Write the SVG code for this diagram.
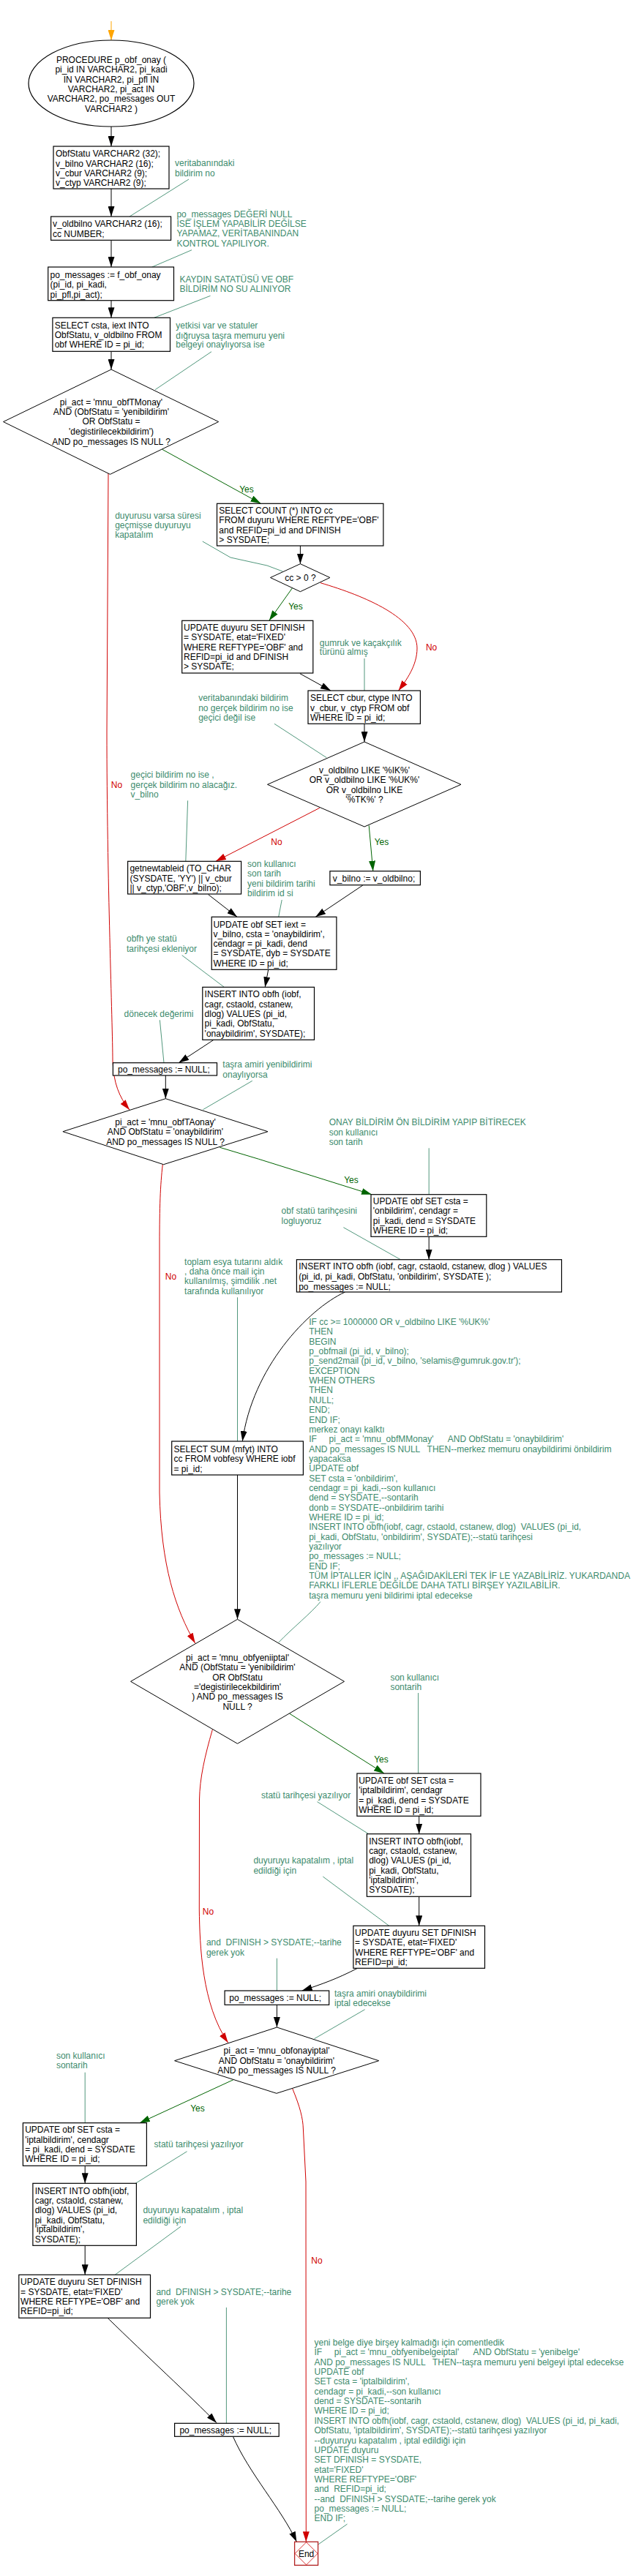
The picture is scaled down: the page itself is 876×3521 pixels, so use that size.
<svg xmlns="http://www.w3.org/2000/svg" width="876" height="3521" viewBox="0 0 876 3521">
<style>
text{font-family:"Liberation Sans",Arial,sans-serif;font-size:12px;fill:#000}
.n{fill:#fff;stroke:#000;stroke-width:1.2}
.d{fill:#fff;stroke:#000;stroke-width:1}
.c{fill:#3d8b6d}
.m{text-anchor:middle}
.e{fill:none;stroke:#000;stroke-width:1}
.y{fill:none;stroke:#006400;stroke-width:1}
.r{fill:none;stroke:#d00000;stroke-width:1}
.l{fill:none;stroke:#3d8b6d;stroke-width:0.9}
.yl{fill:#006400}
.rl{fill:#d00000}
</style>
<defs>
<marker id="ab" markerUnits="userSpaceOnUse" markerWidth="15" markerHeight="9" refX="14" refY="4.5" orient="auto"><path d="M0,0 L14,4.5 L0,9 Z" fill="#000"/></marker>
<marker id="ag" markerUnits="userSpaceOnUse" markerWidth="15" markerHeight="9" refX="14" refY="4.5" orient="auto"><path d="M0,0 L14,4.5 L0,9 Z" fill="#006400"/></marker>
<marker id="ar" markerUnits="userSpaceOnUse" markerWidth="15" markerHeight="9" refX="14" refY="4.5" orient="auto"><path d="M0,0 L14,4.5 L0,9 Z" fill="#d00000"/></marker>
<marker id="ao" markerUnits="userSpaceOnUse" markerWidth="15" markerHeight="9" refX="14" refY="4.5" orient="auto"><path d="M0,0 L14,4.5 L0,9 Z" fill="#ffa500"/></marker>
</defs>
<rect width="876" height="3521" fill="#fff"/>

<g id="connectors">
<path d="M152,29 L152,55" stroke="#ffa500" stroke-width="1" marker-end="url(#ao)"/>
<path class="e" d="M152,173 L152,200" marker-end="url(#ab)"/>
<path class="e" d="M152,258 L152,296" marker-end="url(#ab)"/>
<path class="e" d="M152,328.3 L152,365" marker-end="url(#ab)"/>
<path class="e" d="M152,410.7 L152,434.3" marker-end="url(#ab)"/>
<path class="e" d="M152,480.3 L152,505" marker-end="url(#ab)"/>
<path class="y" d="M221.8,614.3 L356.5,688.3" marker-end="url(#ag)"/>
<text class="yl m" x="337" y="673">Yes</text>
<path class="r" d="M148,647 L146,1000 C146,1200 154,1400 154,1450 C155,1480 163,1500 177,1517" marker-end="url(#ar)"/>
<text class="rl m" x="159.5" y="1077">No</text>
<path class="e" d="M410.4,746 L410.4,770.7" marker-end="url(#ab)"/>
<path class="y" d="M399.8,803.3 L367.8,848.3" marker-end="url(#ag)"/>
<text class="yl m" x="404" y="832.6">Yes</text>
<path class="r" d="M438,796.7 C500,815 570,845 570,886 C570,910 555,930 544.6,944" marker-end="url(#ar)"/>
<text class="rl m" x="589.6" y="889">No</text>
<path class="e" d="M409.9,920.7 L452,944" marker-end="url(#ab)"/>
<path class="e" d="M498,989.3 L498,1014" marker-end="url(#ab)"/>
<path class="r" d="M436.8,1104.3 L294.8,1177.3" marker-end="url(#ar)"/>
<text class="rl m" x="378" y="1155">No</text>
<path class="y" d="M504.2,1128.3 L509.8,1190.7" marker-end="url(#ag)"/>
<text class="yl m" x="521.5" y="1155.3">Yes</text>
<path class="e" d="M284.7,1222.7 L324,1253.3" marker-end="url(#ab)"/>
<path class="e" d="M495.8,1210 L431.2,1253.3" marker-end="url(#ab)"/>
<path class="e" d="M366.7,1325.3 L362.2,1349.3" marker-end="url(#ab)"/>
<path class="e" d="M292,1421.3 L244.2,1452.7" marker-end="url(#ab)"/>
<path class="e" d="M226.3,1470 L226.3,1501.7" marker-end="url(#ab)"/>
<path class="y" d="M300.4,1568.3 L353.7,1584.3 L508.1,1632.7" marker-end="url(#ag)"/>
<text class="yl m" x="480" y="1617">Yes</text>
<path class="r" d="M222.3,1591.7 C219,1620 218,1650 218,1700 L218,2040 C220,2140 240,2200 266.7,2246" marker-end="url(#ar)"/>
<text class="rl m" x="233.5" y="1748.6">No</text>
<path class="e" d="M586.2,1690.3 L586.2,1721.7" marker-end="url(#ab)"/>
<path class="e" d="M471.6,1766 C420,1790 345,1870 331.3,1970" marker-end="url(#ab)"/>
<path class="e" d="M324.5,2016 L324.5,2213.3" marker-end="url(#ab)"/>
<path class="y" d="M395.8,2342.3 L525,2424" marker-end="url(#ag)"/>
<text class="yl m" x="521" y="2409.3">Yes</text>
<path class="r" d="M290.3,2364.3 C280,2400 273,2430 272.5,2460 L272.3,2610 C273,2660 276,2740 311.6,2792" marker-end="url(#ar)"/>
<text class="rl m" x="284.5" y="2617">No</text>
<path class="e" d="M572.7,2482.3 L572.7,2506.7" marker-end="url(#ab)"/>
<path class="e" d="M572.7,2592.3 L572.7,2632.3" marker-end="url(#ab)"/>
<path class="e" d="M488.5,2690.3 C460,2705 440,2712 412.7,2721" marker-end="url(#ab)"/>
<path class="e" d="M378.4,2740.3 L378.4,2771" marker-end="url(#ab)"/>
<path class="y" d="M318.9,2842.7 L190.9,2901.7" marker-end="url(#ag)"/>
<text class="yl m" x="270" y="2886">Yes</text>
<path class="r" d="M399.8,2855 C410,2880 414,2895 414.4,2910 L418,2982 L418.3,3474.3" marker-end="url(#ar)"/>
<text class="rl m" x="433" y="3094.3">No</text>
<path class="e" d="M116.2,2960.3 L116.2,2984.3" marker-end="url(#ab)"/>
<path class="e" d="M116.2,3069.3 L116.2,3109.3" marker-end="url(#ab)"/>
<path class="e" d="M147.1,3168.3 C200,3220 260,3275 296,3311.7" marker-end="url(#ab)"/>
<path class="e" d="M318.4,3330.3 C340,3380 385,3430 405.4,3474.3" marker-end="url(#ab)"/>
</g>

<g id="leaders">
<path class="l" d="M258,245 L177,296"/>
<path class="l" d="M262,341.7 L207.7,365"/>
<path class="l" d="M287.5,404.3 L210.6,434.3"/>
<path class="l" d="M289,480.7 L212,532.7"/>
<path class="l" d="M276.8,740 L315,762 L365,773 L386.3,781"/>
<path class="l" d="M498,900 L498,944"/>
<path class="l" d="M375,989.3 L446.4,1035.7"/>
<path class="l" d="M256.6,1094.3 L253.8,1177.3"/>
<path class="l" d="M385.2,1230 L380.7,1253.3"/>
<path class="l" d="M248.7,1305.7 L306,1349"/>
<path class="l" d="M218.4,1394.3 L224,1452.7"/>
<path class="l" d="M344.8,1477.3 L277.4,1516.7"/>
<path class="l" d="M586.2,1569.3 L586.2,1632.7"/>
<path class="l" d="M469.4,1677.7 L547.4,1721.7"/>
<path class="l" d="M324.5,1773.3 L324.5,1970"/>
<path class="l" d="M438,2189.3 C425,2205 400,2225 380.7,2245"/>
<path class="l" d="M571.6,2314 L571.6,2424"/>
<path class="l" d="M433.5,2462.7 L503.7,2506.7"/>
<path class="l" d="M441.3,2565 L531.7,2632.3"/>
<path class="l" d="M378.4,2676.7 L378.4,2721"/>
<path class="l" d="M498.6,2746.7 L429.5,2786.7"/>
<path class="l" d="M116.2,2832.7 L116.2,2901.7"/>
<path class="l" d="M255.5,2940.7 L185.3,2984.3"/>
<path class="l" d="M247,3043.3 L157.2,3109.3"/>
<path class="l" d="M309.4,3154 L309.4,3312.3"/>
<path class="l" d="M474.5,3450 L435.2,3477.7"/>
</g>

<g id="start">
<ellipse class="n" cx="152" cy="114" rx="113" ry="59" stroke-width="1"/>
<text class="m"><tspan x="152" y="86">PROCEDURE p_obf_onay (</tspan><tspan x="152" y="99.3">pi_id IN VARCHAR2, pi_kadi</tspan><tspan x="152" y="112.6">IN VARCHAR2, pi_pfl  IN</tspan><tspan x="152" y="126">VARCHAR2, pi_act  IN</tspan><tspan x="152" y="139.3">VARCHAR2, po_messages OUT</tspan><tspan x="152" y="152.6">VARCHAR2 )</tspan></text>
</g>
<g id="n1">
<rect class="n" x="73" y="200" width="158" height="58"/>
<text><tspan x="76" y="214.3">ObfStatu  VARCHAR2 (32);</tspan><tspan x="76" y="227.6">v_bilno  VARCHAR2 (16);</tspan><tspan x="76" y="241">v_cbur VARCHAR2 (9);</tspan><tspan x="76" y="254.3">v_ctyp VARCHAR2 (9);</tspan></text>
</g>
<g id="n2">
<rect class="n" x="69.6" y="296" width="164" height="32.3"/>
<text><tspan x="72" y="310.3">v_oldbilno VARCHAR2 (16);</tspan><tspan x="72" y="323.6">cc NUMBER;</tspan></text>
</g>
<g id="n3">
<rect class="n" x="65.7" y="365" width="171.8" height="45.7"/>
<text><tspan x="68.5" y="379.6">po_messages := f_obf_onay</tspan><tspan x="68.5" y="393.3">(pi_id, pi_kadi,</tspan><tspan x="68.5" y="406.6">pi_pfl,pi_act);</tspan></text>
</g>
<g id="n4">
<rect class="n" x="71.9" y="434.3" width="160.6" height="46"/>
<text><tspan x="74.7" y="449.3">SELECT csta, iext  INTO</tspan><tspan x="74.7" y="462.3">ObfStatu, v_oldbilno FROM</tspan><tspan x="74.7" y="475.3">obf WHERE ID = pi_id;</tspan></text>
</g>
<g id="d1">
<polygon class="d" points="152,505 298.7,576.5 150.5,648.3 4.5,576.5"/>
<text class="m"><tspan x="152" y="553.6">pi_act = 'mnu_obfTMonay'</tspan><tspan x="152" y="567">AND (ObfStatu = 'yenibildirim'</tspan><tspan x="152" y="580.3">OR ObfStatu =</tspan><tspan x="152" y="594.3">'degistirilecekbildirim')</tspan><tspan x="152" y="607.6">AND po_messages IS NULL ?</tspan></text>
</g>
<g id="n5">
<rect class="n" x="296.5" y="688.3" width="227.4" height="57.7"/>
<text><tspan x="299.3" y="702">SELECT COUNT (*) INTO cc</tspan><tspan x="299.3" y="715.3">FROM duyuru WHERE REFTYPE='OBF'</tspan><tspan x="299.3" y="729.3">and REFID=pi_id and  DFINISH</tspan><tspan x="299.3" y="742">&gt; SYSDATE;</tspan></text>
</g>
<g id="d2">
<polygon class="d" points="410.4,770.7 450.9,789.5 410.4,808.7 369.5,789.5"/>
<text class="m" x="410.4" y="793.6">cc &gt; 0 ?</text>
</g>
<g id="n6">
<rect class="n" x="248.7" y="848.3" width="179.1" height="71.7"/>
<text><tspan x="251" y="862">UPDATE duyuru SET DFINISH</tspan><tspan x="251" y="875.3">= SYSDATE, etat='FIXED'</tspan><tspan x="251" y="889.3">WHERE REFTYPE='OBF' and</tspan><tspan x="251" y="902">REFID=pi_id and  DFINISH</tspan><tspan x="251" y="915">&gt; SYSDATE;</tspan></text>
</g>
<g id="n7">
<rect class="n" x="421" y="944" width="153.4" height="45.3"/>
<text><tspan x="424" y="958.3">SELECT cbur, ctype INTO</tspan><tspan x="424" y="971.6">v_cbur, v_ctyp  FROM obf</tspan><tspan x="424" y="985">WHERE ID = pi_id;</tspan></text>
</g>
<g id="d3">
<polygon class="d" points="498,1014 630,1072.3 498,1130 365.5,1072.3"/>
<text class="m"><tspan x="498" y="1057">v_oldbilno LIKE '%IK%'</tspan><tspan x="498" y="1070.3">OR v_oldbilno LIKE '%UK%'</tspan><tspan x="498" y="1083.6">OR v_oldbilno LIKE</tspan><tspan x="498" y="1097">'%TK%' ?</tspan></text>
</g>
<g id="n8">
<rect class="n" x="174.6" y="1177.3" width="155" height="44.7"/>
<text><tspan x="177.4" y="1191">getnewtableid (TO_CHAR</tspan><tspan x="177.4" y="1205">(SYSDATE, 'YY') || v_cbur</tspan><tspan x="177.4" y="1218.3">|| v_ctyp,'OBF',v_bilno);</tspan></text>
</g>
<g id="n9">
<rect class="n" x="450.9" y="1190.7" width="123.5" height="19"/>
<text x="454.8" y="1205">v_bilno := v_oldbilno;</text>
</g>
<g id="n10">
<rect class="n" x="289.2" y="1253.3" width="170.7" height="72"/>
<text><tspan x="291.4" y="1267.6">UPDATE obf SET iext =</tspan><tspan x="291.4" y="1281">v_bilno, csta = 'onaybildirim',</tspan><tspan x="291.4" y="1294.3">cendagr = pi_kadi,  dend</tspan><tspan x="291.4" y="1307">= SYSDATE,  dyb = SYSDATE</tspan><tspan x="291.4" y="1321">WHERE ID = pi_id;</tspan></text>
</g>
<g id="n11">
<rect class="n" x="276.8" y="1349.3" width="152.7" height="72"/>
<text><tspan x="279.6" y="1363.3">INSERT INTO obfh (iobf,</tspan><tspan x="279.6" y="1377">cagr, cstaold, cstanew,</tspan><tspan x="279.6" y="1390.3">dlog) VALUES (pi_id,</tspan><tspan x="279.6" y="1403.3">pi_kadi, ObfStatu,</tspan><tspan x="279.6" y="1417">'onaybildirim', SYSDATE);</tspan></text>
</g>
<g id="n12">
<rect class="n" x="154.4" y="1452.7" width="142.1" height="17.3"/>
<text x="161" y="1466.3">po_messages := NULL;</text>
</g>
<g id="d4">
<polygon class="d" points="226.3,1501.7 366,1546.7 223.5,1591.7 85.9,1546.7"/>
<text class="m"><tspan x="226" y="1538.3">pi_act = 'mnu_obfTAonay'</tspan><tspan x="226" y="1551.3">AND ObfStatu = 'onaybildirim'</tspan><tspan x="226" y="1565">AND po_messages IS NULL ?</tspan></text>
</g>
<g id="n13">
<rect class="n" x="507" y="1632.7" width="157.8" height="57.6"/>
<text><tspan x="509.8" y="1646.3">UPDATE obf SET csta =</tspan><tspan x="509.8" y="1659.3">'onbildirim',  cendagr =</tspan><tspan x="509.8" y="1673">pi_kadi,  dend = SYSDATE</tspan><tspan x="509.8" y="1686.3">WHERE ID = pi_id;</tspan></text>
</g>
<g id="n14">
<rect class="n" x="405.4" y="1721.7" width="362.1" height="44.3"/>
<text><tspan x="408.2" y="1735">INSERT INTO obfh (iobf, cagr, cstaold, cstanew, dlog )  VALUES</tspan><tspan x="408.2" y="1749.3">(pi_id, pi_kadi, ObfStatu, 'onbildirim', SYSDATE );</tspan><tspan x="408.2" y="1762.6">po_messages := NULL;</tspan></text>
</g>
<g id="n15">
<rect class="n" x="234.7" y="1970" width="179.7" height="46"/>
<text><tspan x="237.5" y="1985">SELECT SUM (mfyt)  INTO</tspan><tspan x="237.5" y="1998.3">cc FROM vobfesy WHERE iobf</tspan><tspan x="237.5" y="2011.6">= pi_id;</tspan></text>
</g>
<g id="d5">
<polygon class="d" points="324.5,2213.3 470.5,2298.3 324.5,2383.3 178.6,2298.3"/>
<text class="m"><tspan x="324.5" y="2270.3">pi_act = 'mnu_obfyeniiptal'</tspan><tspan x="324.5" y="2283">AND (ObfStatu = 'yenibildirim'</tspan><tspan x="324.5" y="2297">OR ObfStatu</tspan><tspan x="324.5" y="2310.3">='degistirilecekbildirim'</tspan><tspan x="324.5" y="2323">)  AND po_messages IS</tspan><tspan x="324.5" y="2337">NULL ?</tspan></text>
</g>
<g id="n16">
<rect class="n" x="487.9" y="2424" width="169.1" height="58.3"/>
<text><tspan x="490.2" y="2438">UPDATE obf SET csta =</tspan><tspan x="490.2" y="2451.3">'iptalbildirim', cendagr</tspan><tspan x="490.2" y="2465">= pi_kadi,  dend = SYSDATE</tspan><tspan x="490.2" y="2478">WHERE ID = pi_id;</tspan></text>
</g>
<g id="n17">
<rect class="n" x="501.4" y="2506.7" width="142.1" height="85.6"/>
<text><tspan x="504.2" y="2521">INSERT INTO obfh(iobf,</tspan><tspan x="504.2" y="2534.3">cagr, cstaold, cstanew,</tspan><tspan x="504.2" y="2547">dlog)  VALUES (pi_id,</tspan><tspan x="504.2" y="2561">pi_kadi, ObfStatu,</tspan><tspan x="504.2" y="2573.6">'iptalbildirim',</tspan><tspan x="504.2" y="2587">SYSDATE);</tspan></text>
</g>
<g id="n18">
<rect class="n" x="482.9" y="2632.3" width="179.6" height="58"/>
<text><tspan x="485.1" y="2646">UPDATE duyuru SET DFINISH</tspan><tspan x="485.1" y="2659.3">= SYSDATE, etat='FIXED'</tspan><tspan x="485.1" y="2672.6">WHERE REFTYPE='OBF' and</tspan><tspan x="485.1" y="2686">REFID=pi_id;</tspan></text>
</g>
<g id="n19">
<rect class="n" x="307.1" y="2721" width="142.6" height="19.3"/>
<text x="313.3" y="2735.3">po_messages := NULL;</text>
</g>
<g id="d6">
<polygon class="d" points="378.4,2771 517.7,2816.7 377.9,2861.3 238.6,2816.7"/>
<text class="m"><tspan x="378" y="2807">pi_act = 'mnu_obfonayiptal'</tspan><tspan x="378" y="2821">AND ObfStatu = 'onaybildirim'</tspan><tspan x="378" y="2834.3">AND po_messages IS NULL ?</tspan></text>
</g>
<g id="n20">
<rect class="n" x="31.4" y="2901.7" width="169" height="58.6"/>
<text><tspan x="34.2" y="2915.3">UPDATE obf SET csta =</tspan><tspan x="34.2" y="2928.6">'iptalbildirim', cendagr</tspan><tspan x="34.2" y="2942">= pi_kadi,  dend = SYSDATE</tspan><tspan x="34.2" y="2955.3">WHERE ID = pi_id;</tspan></text>
</g>
<g id="n21">
<rect class="n" x="44.9" y="2984.3" width="141.5" height="85"/>
<text><tspan x="47.7" y="2998.6">INSERT INTO obfh(iobf,</tspan><tspan x="47.7" y="3012">cagr, cstaold, cstanew,</tspan><tspan x="47.7" y="3025.3">dlog)  VALUES (pi_id,</tspan><tspan x="47.7" y="3038.6">pi_kadi, ObfStatu,</tspan><tspan x="47.7" y="3051">'iptalbildirim',</tspan><tspan x="47.7" y="3065.3">SYSDATE);</tspan></text>
</g>
<g id="n22">
<rect class="n" x="25.8" y="3109.3" width="179.7" height="59"/>
<text><tspan x="28.1" y="3123.3">UPDATE duyuru SET DFINISH</tspan><tspan x="28.1" y="3136.6">= SYSDATE, etat='FIXED'</tspan><tspan x="28.1" y="3150">WHERE REFTYPE='OBF' and</tspan><tspan x="28.1" y="3163.3">REFID=pi_id;</tspan></text>
</g>
<g id="n23">
<rect class="n" x="238.6" y="3312.3" width="142.6" height="18"/>
<text x="245.4" y="3326.3">po_messages := NULL;</text>
</g>
<g id="end">
<rect x="402.6" y="3474.3" width="32" height="32" fill="#fff" stroke="#b22222" stroke-width="1.3"/>
<polygon points="418.6,3474.8 434.1,3490.3 418.6,3505.8 403.1,3490.3" fill="none" stroke="#d00000" stroke-width="0.8"/>
<text class="m" x="418.6" y="3494.6">End</text>
</g>

<g id="comments">
<text class="c"><tspan x="239" y="227.3">veritabanındaki</tspan><tspan x="239" y="241.3">bildirim no</tspan></text>
<text class="c"><tspan x="241.4" y="297.3">po_messages DEĞERİ NULL</tspan><tspan x="241.4" y="310">İSE İŞLEM YAPABİLİR DEĞİLSE</tspan><tspan x="241.4" y="323.3">YAPAMAZ, VERİTABANINDAN</tspan><tspan x="241.4" y="336.6">KONTROL YAPILIYOR.</tspan></text>
<text class="c"><tspan x="245.4" y="386">KAYDIN SATATÜSÜ VE  OBF</tspan><tspan x="245.4" y="399.3">BİLDİRİM NO SU ALINIYOR</tspan></text>
<text class="c"><tspan x="240.3" y="449.3">yetkisi var ve statuler</tspan><tspan x="240.3" y="462.6">dığruysa taşra memuru yeni</tspan><tspan x="240.3" y="475.3">belgeyi onaylıyorsa ise</tspan></text>
<text class="c"><tspan x="157.2" y="709.3">duyurusu varsa süresi</tspan><tspan x="157.2" y="722">geçmişse duyuruyu</tspan><tspan x="157.2" y="735.3">kapatalım</tspan></text>
<text class="c"><tspan x="436.8" y="882.6">gumruk ve kaçakçılık</tspan><tspan x="436.8" y="895">türünü almış</tspan></text>
<text class="c"><tspan x="271.2" y="958.3">veritabanındaki bildirim</tspan><tspan x="271.2" y="971.6">no gerçek bildirim no ise</tspan><tspan x="271.2" y="985.3">geçici değil ise</tspan></text>
<text class="c"><tspan x="178.6" y="1063.3">geçici bildirim no ise ,</tspan><tspan x="178.6" y="1077">gerçek bildirim no alacağız.</tspan><tspan x="178.6" y="1090">v_bilno</tspan></text>
<text class="c"><tspan x="338" y="1185">son kullanıcı</tspan><tspan x="338" y="1198.3">son tarih</tspan><tspan x="338" y="1211.6">yeni bildirim tarihi</tspan><tspan x="338" y="1225">bildirim id si</tspan></text>
<text class="c"><tspan x="173" y="1287">obfh ye statü</tspan><tspan x="173" y="1301">tarihçesi ekleniyor</tspan></text>
<text class="c" x="169.6" y="1390">dönecek değerimi</text>
<text class="c"><tspan x="304.3" y="1459.3">taşra amiri yenibildirimi</tspan><tspan x="304.3" y="1473.3">onaylıyorsa</tspan></text>
<text class="c"><tspan x="449.7" y="1538.3">ONAY BİLDİRİM ÖN BİLDİRİM YAPIP BİTİRECEK</tspan><tspan x="449.7" y="1551.6">son kullanıcı</tspan><tspan x="449.7" y="1565.3">son tarih</tspan></text>
<text class="c"><tspan x="384.6" y="1659.3">obf statü tarihçesini</tspan><tspan x="384.6" y="1673.3">logluyoruz</tspan></text>
<text class="c"><tspan x="252.1" y="1729.3">toplam esya tutarını aldık</tspan><tspan x="252.1" y="1741.6">, daha önce mail için</tspan><tspan x="252.1" y="1755.3">kullanılmış, şimdilik .net</tspan><tspan x="252.1" y="1769.3">tarafında kullanılıyor</tspan></text>
<text class="c" xml:space="preserve"><tspan x="422.2" y="1811">IF cc &gt;= 1000000 OR v_oldbilno LIKE '%UK%'</tspan><tspan x="422.2" y="1824.3">THEN</tspan><tspan x="422.2" y="1837.7">BEGIN</tspan><tspan x="422.2" y="1851">p_obfmail (pi_id, v_bilno);</tspan><tspan x="422.2" y="1864.4">p_send2mail (pi_id, v_bilno, 'selamis@gumruk.gov.tr');</tspan><tspan x="422.2" y="1877.7">EXCEPTION</tspan><tspan x="422.2" y="1891.1">WHEN OTHERS</tspan><tspan x="422.2" y="1904.4">THEN</tspan><tspan x="422.2" y="1917.8">NULL;</tspan><tspan x="422.2" y="1931.1">END;</tspan><tspan x="422.2" y="1944.5">END IF;</tspan><tspan x="422.2" y="1957.8">merkez onayı kalktı</tspan><tspan x="422.2" y="1971.2">IF     pi_act = 'mnu_obfMMonay'      AND ObfStatu = 'onaybildirim'</tspan><tspan x="422.2" y="1984.5">AND po_messages IS NULL   THEN--merkez memuru onaybildirimi önbildirim</tspan><tspan x="422.2" y="1997.9">yapacaksa</tspan><tspan x="422.2" y="2011.2">UPDATE obf</tspan><tspan x="422.2" y="2024.6">SET csta = 'onbildirim',</tspan><tspan x="422.2" y="2037.9">cendagr = pi_kadi,--son kullanıcı</tspan><tspan x="422.2" y="2051.3">dend = SYSDATE,--sontarih</tspan><tspan x="422.2" y="2064.6">donb = SYSDATE--onbildirim tarihi</tspan><tspan x="422.2" y="2078">WHERE ID = pi_id;</tspan><tspan x="422.2" y="2091.3">INSERT INTO obfh(iobf, cagr, cstaold, cstanew, dlog)  VALUES (pi_id,</tspan><tspan x="422.2" y="2104.7">pi_kadi, ObfStatu, 'onbildirim', SYSDATE);--statü tarihçesi</tspan><tspan x="422.2" y="2118">yazılıyor</tspan><tspan x="422.2" y="2131.4">po_messages := NULL;</tspan><tspan x="422.2" y="2144.7">END IF;</tspan><tspan x="422.2" y="2158.1">TÜM İPTALLER İÇİN ,, AŞAĞIDAKİLERİ TEK İF LE YAZABİLİRİZ. YUKARDANDA</tspan><tspan x="422.2" y="2171.4">FARKLI İFLERLE DEĞİLDE DAHA TATLI BİRŞEY YAZILABİLİR.</tspan><tspan x="422.2" y="2184.8">taşra memuru yeni bildirimi iptal edecekse</tspan></text>
<text class="c"><tspan x="533.4" y="2297">son kullanıcı</tspan><tspan x="533.4" y="2310.3">sontarih</tspan></text>
<text class="c" x="357.1" y="2458.3">statü tarihçesi yazılıyor</text>
<text class="c"><tspan x="346.4" y="2547">duyuruyu kapatalım , iptal</tspan><tspan x="346.4" y="2561">edildiği için</tspan></text>
<text class="c" xml:space="preserve"><tspan x="281.9" y="2658.6">and  DFINISH &gt; SYSDATE;--tarihe</tspan><tspan x="281.9" y="2673.3">gerek yok</tspan></text>
<text class="c"><tspan x="457" y="2729.3">taşra amiri onaybildirimi</tspan><tspan x="457" y="2742">iptal edecekse</tspan></text>
<text class="c"><tspan x="76.9" y="2814.3">son kullanıcı</tspan><tspan x="76.9" y="2827">sontarih</tspan></text>
<text class="c" x="210.6" y="2935.3">statü tarihçesi yazılıyor</text>
<text class="c"><tspan x="195.4" y="3025.3">duyuruyu kapatalım , iptal</tspan><tspan x="195.4" y="3038.6">edildiği için</tspan></text>
<text class="c" xml:space="preserve"><tspan x="213.4" y="3137">and  DFINISH &gt; SYSDATE;--tarihe</tspan><tspan x="213.4" y="3150.3">gerek yok</tspan></text>
<text class="c" xml:space="preserve"><tspan x="429.5" y="3206">yeni belge diye birşey kalmadığı için comentledik</tspan><tspan x="429.5" y="3219.3">IF     pi_act = 'mnu_obfyenibelgeiptal'      AND ObfStatu = 'yenibelge'</tspan><tspan x="429.5" y="3232.7">AND po_messages IS NULL   THEN--taşra memuru yeni belgeyi iptal edecekse</tspan><tspan x="429.5" y="3246">UPDATE obf</tspan><tspan x="429.5" y="3259.4">SET csta = 'iptalbildirim',</tspan><tspan x="429.5" y="3272.7">cendagr = pi_kadi,--son kullanıcı</tspan><tspan x="429.5" y="3286.1">dend = SYSDATE--sontarih</tspan><tspan x="429.5" y="3299.4">WHERE ID = pi_id;</tspan><tspan x="429.5" y="3312.8">INSERT INTO obfh(iobf, cagr, cstaold, cstanew, dlog)  VALUES (pi_id, pi_kadi,</tspan><tspan x="429.5" y="3326.1">ObfStatu, 'iptalbildirim', SYSDATE);--statü tarihçesi yazılıyor</tspan><tspan x="429.5" y="3339.5">--duyuruyu kapatalım , iptal edildiği için</tspan><tspan x="429.5" y="3352.8">UPDATE duyuru</tspan><tspan x="429.5" y="3366.2">SET DFINISH = SYSDATE,</tspan><tspan x="429.5" y="3379.5">etat='FIXED'</tspan><tspan x="429.5" y="3392.9">WHERE REFTYPE='OBF'</tspan><tspan x="429.5" y="3406.2">and  REFID=pi_id;</tspan><tspan x="429.5" y="3419.6">--and  DFINISH &gt; SYSDATE;--tarihe gerek yok</tspan><tspan x="429.5" y="3432.9">po_messages := NULL;</tspan><tspan x="429.5" y="3446.3">END IF;</tspan></text>
</g>
</svg>
